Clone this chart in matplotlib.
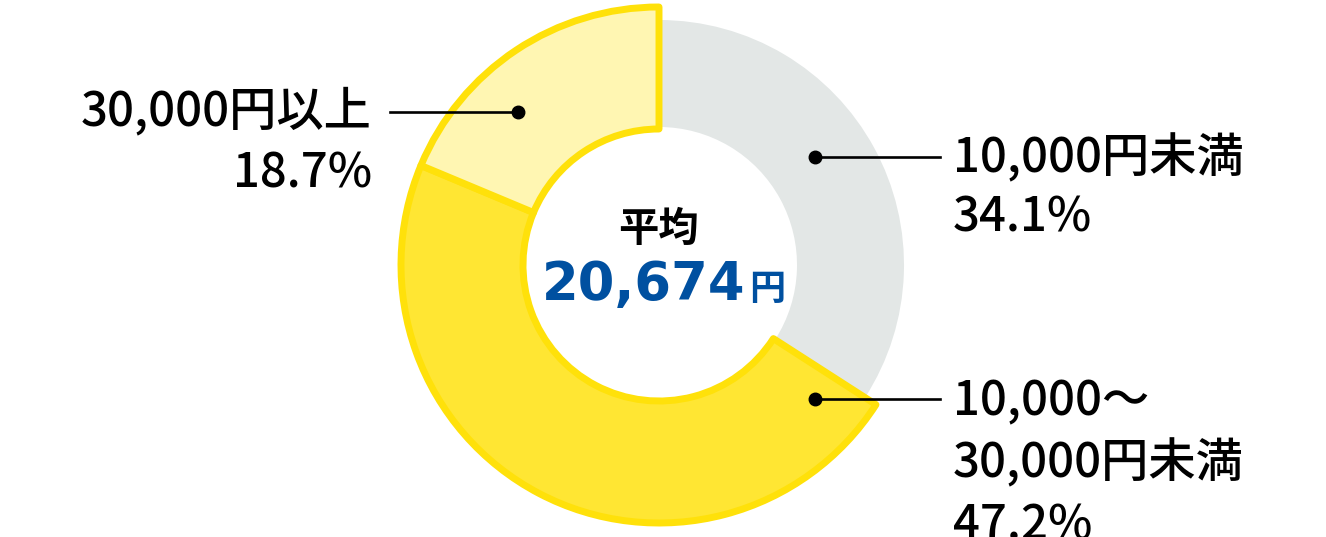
import matplotlib
matplotlib.use("Agg")
import matplotlib.pyplot as plt

plt.rcParams['font.family'] = ['Noto Sans CJK JP', 'DejaVu Sans']

# ---- data ----
categories = ["10,000円未満", "10,000〜\n30,000円未満", "30,000円以上"]
shares = [34.1, 47.2, 18.7]
average_label = "平均"
average_value = "20,674"
average_unit = "円"

# ---- style ----
fills = ["#E3E7E6", "#FFE633", "#FFF6B2"]
edge_yellow = "#FFE10A"
blue = "#0050A0"
W, H = 1326, 537
cx, cy = 659, 537 - 265

fig = plt.figure(figsize=(W / 100, H / 100), dpi=100)
ax = fig.add_axes([0, 0, 1, 1])

wedges, _ = ax.pie(shares, colors=fills, startangle=90, counterclock=False,
                   center=(cx, cy), radius=245,
                   wedgeprops=dict(width=107, linewidth=0))
# yellow segments are larger and outlined
for w in wedges[1:]:
    w.set_radius(258)
    w.set_width(122)
    w.set_edgecolor(edge_yellow)
    w.set_linewidth(5)
    w.set_joinstyle('round')
    w.set_zorder(3)

ax.set_xlim(0, W)
ax.set_ylim(0, H)
ax.set_aspect('equal')
ax.axis('off')

# ---- labels ----
fs = 34
fw = 'medium'
lw = 1.9
ms = 9

def label_block(x, y0, step, lines, ha):
    for i, t in enumerate(lines):
        ax.text(x, H - (y0 + step * i), t, fontsize=fs, fontweight=fw,
                ha=ha, va='baseline', color='black', zorder=7)

# 10,000円未満 (right, top)
ax.plot([815, 940], [H - 157, H - 157], color='black', lw=lw, zorder=5)
ax.plot([815], [H - 157], 'o', color='black', ms=ms, zorder=6)
label_block(953, 172, 60, categories[0].split("\n") + [f"{shares[0]}%"], 'left')

# 10,000〜30,000円未満 (right, bottom)
ax.plot([815, 940], [H - 399, H - 399], color='black', lw=lw, zorder=5)
ax.plot([815], [H - 399], 'o', color='black', ms=ms, zorder=6)
label_block(953, 415, 62, categories[1].split("\n") + [f"{shares[1]}%"], 'left')

# 30,000円以上 (left)
ax.plot([390, 518], [H - 112, H - 112], color='black', lw=lw, zorder=5)
ax.plot([518], [H - 112], 'o', color='black', ms=ms, zorder=6)
label_block(372, 125, 62, categories[2].split("\n") + [f"{shares[2]}%"], 'right')

# ---- centre ----
ax.text(658, H - 241, average_label, fontsize=29, fontweight='bold',
        ha='center', va='baseline', color='black', zorder=7)
ax.text(745, H - 300, average_value, fontsize=38, fontweight='bold',
        family=['DejaVu Sans'], ha='right', va='baseline', color=blue, zorder=7)
ax.text(749, H - 300, average_unit, fontsize=26, fontweight='bold',
        ha='left', va='baseline', color=blue, zorder=7)

fig.savefig("out.png", dpi=100)
